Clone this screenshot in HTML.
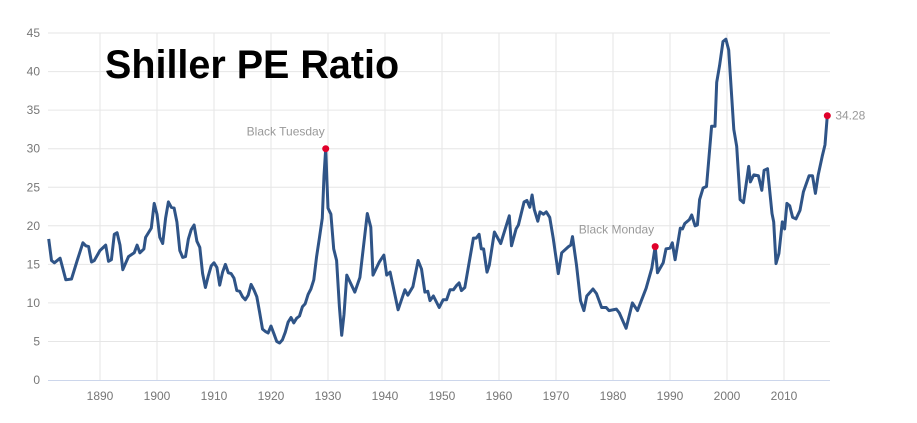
<!DOCTYPE html>
<html><head><meta charset="utf-8"><style>
body{margin:0;background:#fff;}
svg{display:block;font-family:"Liberation Sans",Arial,sans-serif;}
</style></head><body>
<svg id="chart" width="917" height="423"></svg>
<script>
const years=[1881,1881.5,1882,1883,1884,1885,1886,1887,1887.5,1888,1888.5,1889,1890,1891,1891.5,1892,1892.5,1893,1893.5,1894,1895,1896,1896.5,1897,1897.7,1898,1899,1899.5,1900,1900.5,1901,1901.5,1902,1902.5,1903,1903.5,1904,1904.5,1905,1905.5,1906,1906.5,1907,1907.5,1908,1908.5,1909,1909.5,1910,1910.5,1911,1911.5,1912,1912.5,1913,1913.5,1914,1914.5,1915,1915.5,1916,1916.5,1917,1917.5,1918,1918.5,1919,1919.5,1920,1920.5,1921,1921.5,1922,1922.5,1923,1923.5,1924,1924.5,1925,1925.5,1926,1926.5,1927,1927.5,1928,1928.5,1929,1929.3,1929.6,1930,1930.5,1931,1931.5,1932,1932.4,1932.8,1933.3,1934.7,1935.6,1936.9,1937.5,1937.9,1939,1939.8,1940.3,1940.9,1942.3,1943.5,1944,1944.9,1945.8,1946.4,1947,1947.5,1947.9,1948.5,1949.5,1950.2,1950.8,1951.4,1952,1952.6,1953,1953.4,1954,1955.5,1956,1956.5,1956.9,1957.3,1957.9,1958.3,1959.2,1960.3,1961.8,1962.2,1963,1963.4,1964.4,1964.9,1965.4,1965.8,1966.2,1966.8,1967.2,1967.8,1968.3,1968.9,1969.5,1970.4,1971,1972.2,1972.6,1972.9,1973.6,1974.3,1974.9,1975.4,1976.5,1977.1,1978,1978.8,1979.3,1980.6,1981.1,1982.3,1983.4,1984.3,1985.8,1986.8,1987.4,1987.8,1988.8,1989.3,1990,1990.4,1990.9,1991.8,1992.2,1992.6,1993.4,1993.8,1994.4,1994.8,1995.2,1995.8,1996.4,1997.3,1997.9,1998.2,1998.7,1999.3,1999.8,2000.3,2001.2,2001.7,2002.3,2002.9,2003.8,2004.1,2004.7,2005.5,2006.1,2006.5,2007.1,2007.9,2008.2,2008.6,2009.1,2009.7,2010.1,2010.5,2011,2011.5,2012.1,2012.8,2013.4,2014.4,2015,2015.5,2016,2016.7,2017.2,2017.6];
const pe=[18.3,15.5,15.2,15.8,13.0,13.1,15.5,17.8,17.4,17.3,15.3,15.5,16.8,17.5,15.4,15.6,18.9,19.1,17.5,14.3,16.0,16.5,17.5,16.5,17.0,18.5,19.7,22.9,21.5,18.5,17.7,21.0,23.1,22.4,22.3,20.5,16.8,15.9,16.0,18.3,19.5,20.1,18.0,17.2,13.8,12.0,13.5,14.8,15.2,14.6,12.3,14.0,15.0,13.9,13.8,13.2,11.6,11.5,10.8,10.4,11.0,12.4,11.7,10.8,8.8,6.6,6.3,6.1,7.0,6.0,5.0,4.8,5.2,6.2,7.5,8.1,7.4,8.0,8.3,9.5,9.9,11.1,11.8,13.0,16.0,18.5,21.0,26.5,30.0,22.3,21.5,17.0,15.5,9.5,5.8,8.5,13.6,11.4,13.3,21.6,19.8,13.6,15.3,16.2,13.6,14.0,9.1,11.7,11.0,12.1,15.5,14.4,11.4,11.5,10.3,10.9,9.4,10.4,10.4,11.7,11.7,12.3,12.6,11.6,12.0,18.4,18.4,18.9,17.0,17.0,14.0,14.9,19.2,17.7,21.3,17.4,19.6,20.1,23.1,23.3,22.4,24.0,22.1,20.6,21.8,21.5,21.8,21.1,18.4,13.8,16.5,17.3,17.5,18.6,14.9,10.3,9.0,10.9,11.8,11.2,9.4,9.4,9.0,9.2,8.7,6.7,10.0,9.0,11.9,14.5,17.3,13.9,15.2,17.0,17.1,17.8,15.6,19.7,19.6,20.3,20.8,21.4,20.0,20.1,23.4,24.9,25.1,32.9,32.9,38.6,40.8,43.9,44.2,42.8,32.5,30.3,23.4,23.0,27.7,25.7,26.6,26.5,24.6,27.2,27.4,21.6,20.5,15.1,16.4,20.5,19.6,22.9,22.6,21.1,20.9,22.0,24.4,26.5,26.5,24.2,26.6,29.0,30.5,34.28];
const yTicks=[0,5,10,15,20,25,30,35,40,45];
const xTicks=[1890,1900,1910,1920,1930,1940,1950,1960,1970,1980,1990,2000,2010];
const events=[{label:"Black Tuesday",year:1929.6,value:30.0},{label:"Black Monday",year:1987.4,value:17.3}];
const NS="http://www.w3.org/2000/svg";
const svg=document.getElementById('chart');
const X=y=>100+(y-1890)*5.7;
const Y=v=>380-v*7.71;
function mk(tag,attrs,parent){const e=document.createElementNS(NS,tag);for(const k in attrs)e.setAttribute(k,attrs[k]);(parent||svg).appendChild(e);return e;}
const grid=mk('g',{});


yTicks.forEach(t=>{
  if(t>0){const l=mk('line',{x1:48,x2:830,y1:Y(t),y2:Y(t),stroke:'#e6e6e6','stroke-width':1},grid);
  
  }
  const tx=mk('text',{x:40,y:Y(t)+4,'text-anchor':'end','font-size':12,fill:'#777'});
  tx.textContent=t;
  
  
});
xTicks.forEach(t=>{
  const l=mk('line',{x1:X(t),x2:X(t),y1:33,y2:380,stroke:'#e6e6e6','stroke-width':1},grid);
  
  
  const tx=mk('text',{x:X(t),y:400,'text-anchor':'middle','font-size':12,fill:'#777'});
  tx.textContent=t;
  
  
});
const ax=mk('line',{x1:48,x2:830,y1:380.5,y2:380.5,stroke:'#ccd6eb','stroke-width':1});


const d=years.map((y,i)=>(i?'L':'M')+X(y).toFixed(1)+' '+Y(pe[i]).toFixed(1)).join(' ');
const line=mk('path',{d:d,fill:'none',stroke:'#2f5487','stroke-width':3,'stroke-linejoin':'round'});


events.forEach(ev=>{
  const c=mk('circle',{cx:X(ev.year),cy:Y(ev.value),r:3.5,fill:'#e0002a'});
  
  
  const t=mk('text',{x:X(ev.year)-1,y:Y(ev.value)-13,'text-anchor':'end','font-size':12,fill:'#999'});
  t.textContent=ev.label;
  
  
});
const li=years.length-1;
const lc=mk('circle',{cx:X(years[li]),cy:Y(pe[li]),r:3.5,fill:'#e0002a'});


const lt=mk('text',{x:X(years[li])+8,y:Y(pe[li])+4,'font-size':12,fill:'#999'});
lt.textContent=pe[li].toFixed(2);


const title=mk('text',{x:105,y:78,'font-size':39.5,'font-weight':'bold',fill:'#000'});
title.textContent='Shiller PE Ratio';


</script>
</body></html>
